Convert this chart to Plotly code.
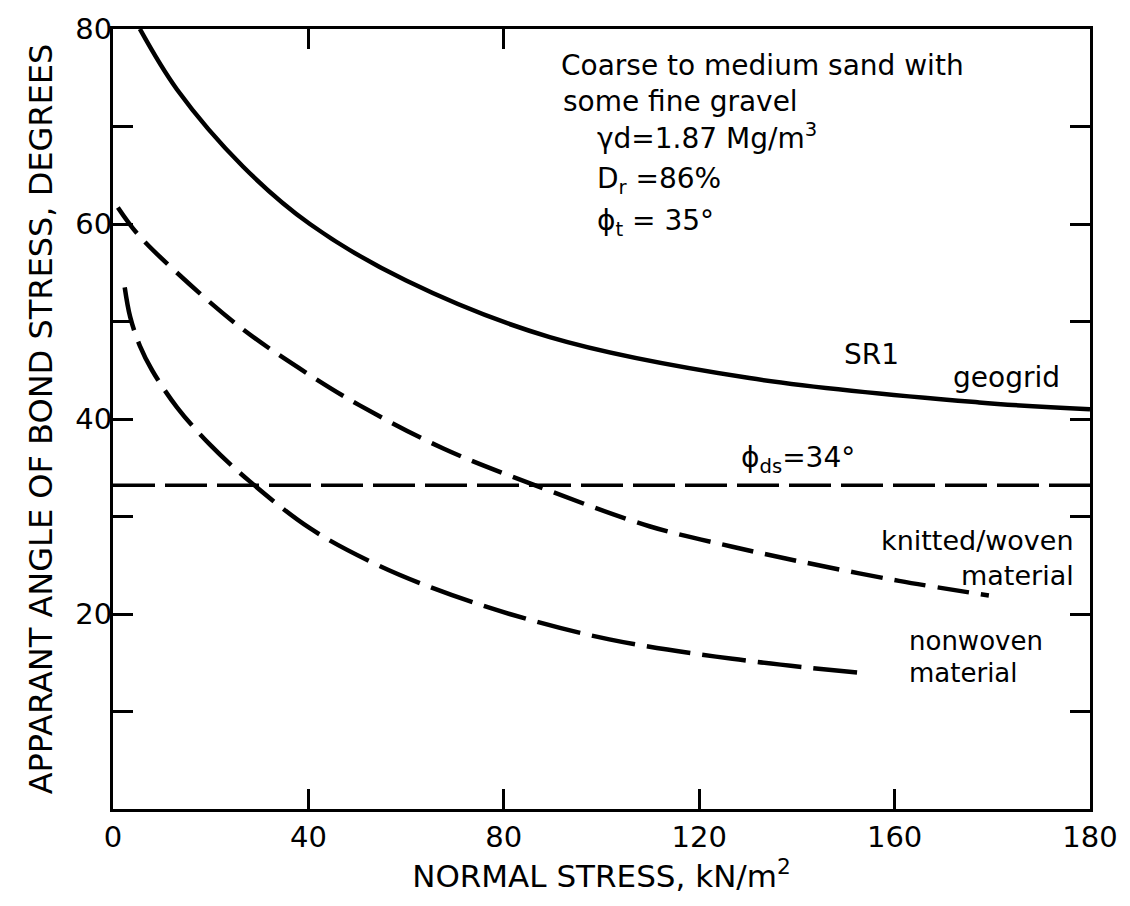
import plotly.graph_objects as go

# ---- data ----
sr1_x = [5.5, 13.1, 26.6, 40.3, 60.0, 89.4, 130.3, 177.3, 200.0]
sr1_y = [80.0, 73.8, 65.9, 60.0, 54.2, 48.4, 44.2, 41.7, 41.0]

knit_x = [1.0, 5.0, 13.1, 26.6, 40.3, 50.5, 67.5, 85.9, 109.8, 126.8, 140.5, 160.9, 179.3]
knit_y = [61.7, 59.0, 55.0, 49.2, 44.5, 41.4, 37.0, 33.3, 29.0, 26.9, 25.4, 23.4, 21.9]

nonw_x = [2.4, 3.5, 5.5, 8.0, 13.1, 19.8, 28.0, 40.3, 52.6, 64.2, 81.2, 101.6, 126.8, 154.2]
nonw_y = [53.5, 50.5, 47.5, 45.0, 41.2, 37.4, 33.6, 28.8, 25.4, 22.9, 20.0, 17.4, 15.4, 13.9]

phi_ds_x = [0, 200]
phi_ds_y = [33.2, 33.2]

x_tickvals = [0, 40, 80, 120, 160, 200]
x_ticktext = ["0", "40", "80", "120", "160", "180"]
y_tickvals = [20, 40, 60, 80]
y_ticktext = ["20", "40", "60", "80"]
y_minor = [10, 30, 50, 70]
right_ticks = [10, 20, 30, 40, 50, 60, 70]
top_ticks = [40, 80]

FONT = "DejaVu Sans"
BLACK = "black"

fig = go.Figure()
fig.add_trace(go.Scatter(x=sr1_x, y=sr1_y, mode="lines", line=dict(color=BLACK, width=4.5, shape="spline"),
                         showlegend=False, hoverinfo="skip"))
fig.add_trace(go.Scatter(x=knit_x, y=knit_y, mode="lines",
                         line=dict(color=BLACK, width=4.5, dash="32px,12px", shape="spline"),
                         showlegend=False, hoverinfo="skip"))
fig.add_trace(go.Scatter(x=nonw_x, y=nonw_y, mode="lines",
                         line=dict(color=BLACK, width=4.5, dash="44px,12px", shape="spline"),
                         showlegend=False, hoverinfo="skip"))
fig.add_trace(go.Scatter(x=phi_ds_x, y=phi_ds_y, mode="lines",
                         line=dict(color=BLACK, width=3.5, dash="42px,10px"),
                         showlegend=False, hoverinfo="skip"))
# invisible traces to create the mirrored tick axes
fig.add_trace(go.Scatter(x=[0], y=[0], xaxis="x2", yaxis="y", mode="markers",
                         marker=dict(opacity=0), showlegend=False, hoverinfo="skip"))
fig.add_trace(go.Scatter(x=[0], y=[0], xaxis="x", yaxis="y2", mode="markers",
                         marker=dict(opacity=0), showlegend=False, hoverinfo="skip"))

axis_common = dict(showgrid=False, zeroline=False, showline=True, linecolor=BLACK, linewidth=3,
                   ticks="inside", ticklen=20, tickwidth=3, tickcolor=BLACK)

fig.update_layout(
    width=1130, height=906,
    margin=dict(l=113, r=39, t=25, b=97),
    paper_bgcolor="white", plot_bgcolor="white",
    font=dict(family=FONT, color=BLACK),
    xaxis=dict(range=[0, 200], tickvals=x_tickvals, ticktext=x_ticktext,
               tickfont=dict(size=29, family=FONT), ticklabelstandoff=0,
               title=dict(text="NORMAL STRESS, kN/m<sup>2</sup>", font=dict(size=31, family=FONT), standoff=8),
               **axis_common),
    yaxis=dict(range=[0, 80], tickvals=y_tickvals, ticktext=y_ticktext,
               tickfont=dict(size=29, family=FONT), ticklabelstandoff=-8,
               minor=dict(tickvals=y_minor, ticks="inside", ticklen=20, tickwidth=3, tickcolor=BLACK),
               title=dict(text="APPARANT ANGLE OF BOND STRESS, DEGREES", font=dict(size=32, family=FONT), standoff=14),
               **axis_common),
    xaxis2=dict(range=[0, 200], overlaying="x", side="top", tickvals=top_ticks, showticklabels=False,
                **axis_common),
    yaxis2=dict(range=[0, 80], overlaying="y", side="right", tickvals=right_ticks, showticklabels=False,
                **axis_common),
)

def note(text, x, y, xanchor="left", size=28):
    fig.add_annotation(x=x, y=y, xref="x", yref="y", text=text, showarrow=False,
                       xanchor=xanchor, yanchor="middle", font=dict(size=size, family=FONT, color=BLACK))

note("Coarse to medium sand with", 91.4, 76.3)
note("some fine gravel", 91.8, 72.6)
note("γd=1.87 Mg/m<sup>3</sup>", 98.6, 69.0)
note("D<sub>r</sub> =86%", 98.6, 64.5)
note("ϕ<sub>t</sub> = 35°", 98.6, 60.2)
note("ϕ<sub>ds</sub>=34°", 128.2, 35.8)
note("SR1", 149.3, 46.6)
note("geogrid", 171.6, 44.3)
note("knitted/woven", 197.1, 27.5, xanchor="right", size=27)
note("material", 197.1, 24.0, xanchor="right", size=27)
note("nonwoven", 162.6, 17.2, size=26)
note("material", 162.6, 13.9, size=26)

fig.write_html("out.html")
